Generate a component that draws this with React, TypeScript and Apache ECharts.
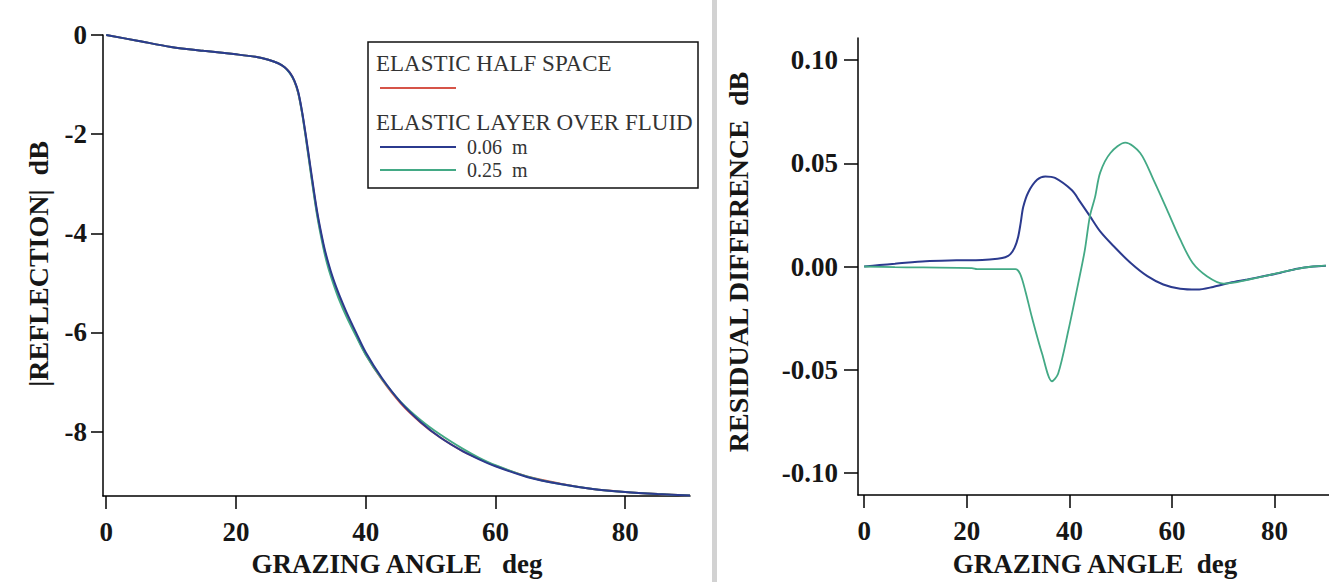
import React, { useEffect, useRef } from "react";
import * as echarts from "echarts";

const SERIF = '"Liberation Serif", "Times New Roman", Times, serif';
const BLUE = "#2b3a8e";
const GREEN = "#43a985";
const RED = "#d65448";
const INK = "#161616";

// Left panel: |REFLECTION| dB vs grazing angle
const leftAngles = [0, 5, 10, 15, 20, 23, 25, 26.5, 27.5, 28.3, 29, 29.6, 30.2, 30.8, 31.5, 32.5, 33.5, 34.2, 35, 36, 37, 38.5, 40, 42.5, 45.4, 48.5, 51.5, 55, 57.5, 60, 65, 70, 75, 80, 85, 90];
const halfSpaceDb = [0, -0.12, -0.24, -0.32, -0.39, -0.44, -0.5, -0.57, -0.65, -0.76, -0.93, -1.17, -1.57, -2.08, -2.72, -3.59, -4.26, -4.62, -4.96, -5.31, -5.62, -6.04, -6.44, -6.95, -7.43, -7.82, -8.12, -8.4, -8.55, -8.69, -8.91, -9.05, -9.16, -9.22, -9.26, -9.29];
const layer006Db = [0, -0.12, -0.24, -0.32, -0.39, -0.44, -0.5, -0.57, -0.65, -0.76, -0.92, -1.15, -1.55, -2.05, -2.68, -3.55, -4.22, -4.58, -4.92, -5.27, -5.58, -6.0, -6.4, -6.92, -7.41, -7.81, -8.12, -8.4, -8.56, -8.7, -8.92, -9.06, -9.16, -9.22, -9.26, -9.29];
const layer025Db = [0, -0.12, -0.24, -0.32, -0.39, -0.44, -0.5, -0.57, -0.65, -0.77, -0.93, -1.17, -1.58, -2.1, -2.75, -3.63, -4.31, -4.68, -5.01, -5.37, -5.67, -6.07, -6.45, -6.94, -7.4, -7.77, -8.06, -8.35, -8.53, -8.68, -8.91, -9.06, -9.16, -9.22, -9.26, -9.29];

// Right panel: residual difference dB vs grazing angle
const residAngles006 = [0, 3, 6, 12, 18, 23, 26, 27.5, 28.5, 29.3, 30, 30.5, 31, 32, 33.7, 35.3, 37.2, 40.5, 42, 44, 46, 48.6, 51.9, 55.2, 58.3, 61.6, 64.9, 68, 71.3, 74.7, 77.8, 81, 84.4, 87.5, 90];
const resid006 = [0, 0.0007, 0.0013, 0.0026, 0.003, 0.0032, 0.0038, 0.0045, 0.006, 0.009, 0.0142, 0.021, 0.0288, 0.036, 0.042, 0.0436, 0.0429, 0.0369, 0.0317, 0.0244, 0.017, 0.0099, 0.0018, -0.0047, -0.0087, -0.0108, -0.0112, -0.0099, -0.0079, -0.0063, -0.0047, -0.0031, -0.0011, 0, 0.0004];
const residAngles025 = [0, 6, 21, 22, 29.5, 30.4, 31.4, 32.7, 34.7, 36.6, 37.8, 39.8, 41.7, 43, 44, 45, 46, 48, 50.9, 53.8, 56.4, 59, 61.6, 64, 66.8, 70, 72, 75, 78, 81, 84.4, 87.5, 90];
const resid025 = [0, -0.0003, -0.0008, -0.0013, -0.0013, -0.0036, -0.0117, -0.0246, -0.0424, -0.0556, -0.052, -0.031, -0.0084, 0.0078, 0.0244, 0.0336, 0.0455, 0.055, 0.06, 0.055, 0.042, 0.0277, 0.0131, 0.0018, -0.0047, -0.0083, -0.0078, -0.0063, -0.0047, -0.003, -0.0011, 0, 0.0004];

const xTicks = [0, 20, 40, 60, 80];
const leftYTicks = [-8, -6, -4, -2, 0];
const rightYTicks = [-0.1, -0.05, 0, 0.05, 0.1];

const legendHeader1 = "ELASTIC HALF SPACE";
const legendHeader2 = "ELASTIC LAYER OVER FLUID";
const legendLabel006 = "0.06  m";
const legendLabel025 = "0.25  m";

const pairs = (xs: number[], ys: number[]) => xs.map((x, i) => [x, ys[i]]);

const axisCommon = {
  axisLine: { show: true, onZero: false, lineStyle: { color: "#000", width: 1.5 } },
  splitLine: { show: false },
};

const tickLabel = {
  fontFamily: SERIF,
  fontWeight: "bold" as const,
  fontSize: 27,
  color: INK,
};

const lineSeries = (name: string, xi: number, data: number[][], color: string, width = 2) => ({
  name,
  type: "line",
  xAxisIndex: xi,
  yAxisIndex: xi,
  data,
  showSymbol: false,
  smooth: 0.3,
  lineStyle: { color, width },
  itemStyle: { color },
});

export default function App() {
  const ref = useRef<HTMLDivElement>(null);

  useEffect(() => {
    document.body.style.margin = "0";
    if (!ref.current) return;
    const chart = echarts.init(ref.current, undefined, { renderer: "svg" });

    const legendText = (text: string, x: number, y: number, size: number) => ({
      type: "text",
      x,
      y,
      z: 11,
      style: { text, font: `${size}px ${SERIF}`, fill: "#333", textAlign: "left", textVerticalAlign: "middle" },
    });

    const option: any = {
      animation: false,
      backgroundColor: "#fff",
      grid: [
        { left: 103, top: 35, width: 587, height: 461 },
        { left: 858, top: 38, width: 471, height: 457 },
      ],
      xAxis: [
        {
          type: "value",
          gridIndex: 0,
          min: -0.5,
          max: 90,
          ...axisCommon,
          axisTick: { show: true, length: 13, customValues: xTicks, lineStyle: { color: "#000", width: 1.5 } },
          axisLabel: { ...tickLabel, customValues: xTicks, margin: 22 },
        },
        {
          type: "value",
          gridIndex: 1,
          min: -1.2,
          max: 90.6,
          ...axisCommon,
          axisTick: { show: true, length: 13, customValues: xTicks, lineStyle: { color: "#000", width: 1.5 } },
          axisLabel: { ...tickLabel, customValues: xTicks, margin: 22 },
        },
      ],
      yAxis: [
        {
          type: "value",
          gridIndex: 0,
          min: -9.3,
          max: 0,
          ...axisCommon,
          axisTick: { show: true, length: 12, customValues: leftYTicks, lineStyle: { color: "#000", width: 1.5 } },
          axisLabel: { ...tickLabel, customValues: leftYTicks, margin: 16 },
        },
        {
          type: "value",
          gridIndex: 1,
          min: -0.1107,
          max: 0.1107,
          ...axisCommon,
          axisTick: { show: true, length: 14, customValues: rightYTicks, lineStyle: { color: "#000", width: 1.5 } },
          axisLabel: {
            ...tickLabel,
            customValues: rightYTicks,
            margin: 20,
            formatter: (v: number) => v.toFixed(2),
          },
        },
      ],
      series: [
        lineSeries("ELASTIC HALF SPACE", 0, pairs(leftAngles, halfSpaceDb), RED),
        lineSeries("0.25 m", 0, pairs(leftAngles, layer025Db), GREEN),
        lineSeries("0.06 m", 0, pairs(leftAngles, layer006Db), BLUE),
        lineSeries("0.06 m residual", 1, pairs(residAngles006, resid006), BLUE),
        lineSeries("0.25 m residual", 1, pairs(residAngles025, resid025), GREEN, 1.8),
      ],
      graphic: [
        // divider between panels
        { type: "rect", shape: { x: 712, y: 0, width: 5, height: 582 }, style: { fill: "#d2d2d2" }, silent: true },
        // axis titles
        {
          type: "text",
          x: 38,
          y: 264,
          rotation: Math.PI / 2,
          style: { text: "|REFLECTION|  dB", font: `bold 28px ${SERIF}`, fill: INK, textAlign: "center", textVerticalAlign: "middle" },
        },
        {
          type: "text",
          x: 738,
          y: 262,
          rotation: Math.PI / 2,
          style: { text: "RESIDUAL DIFFERENCE  dB", font: `bold 28px ${SERIF}`, fill: INK, textAlign: "center", textVerticalAlign: "middle" },
        },
        {
          type: "text",
          x: 397,
          y: 564,
          style: { text: "GRAZING ANGLE   deg", font: `bold 27px ${SERIF}`, fill: INK, textAlign: "center", textVerticalAlign: "middle" },
        },
        {
          type: "text",
          x: 1095,
          y: 564,
          style: { text: "GRAZING ANGLE  deg", font: `bold 27px ${SERIF}`, fill: INK, textAlign: "center", textVerticalAlign: "middle" },
        },
        // legend box
        {
          type: "rect",
          shape: { x: 368, y: 42, width: 330, height: 146 },
          style: { fill: "#fff", stroke: "#111", lineWidth: 1.5 },
          z: 10,
        },
        legendText(legendHeader1, 376, 63, 23),
        { type: "line", z: 11, shape: { x1: 380, y1: 88, x2: 456, y2: 88 }, style: { stroke: RED, lineWidth: 2 } },
        legendText(legendHeader2, 376, 122, 23),
        { type: "line", z: 11, shape: { x1: 380, y1: 147, x2: 456, y2: 147 }, style: { stroke: BLUE, lineWidth: 2 } },
        legendText(legendLabel006, 467, 147, 20),
        { type: "line", z: 11, shape: { x1: 380, y1: 170, x2: 456, y2: 170 }, style: { stroke: GREEN, lineWidth: 2 } },
        legendText(legendLabel025, 467, 170, 20),
      ],
    };

    chart.setOption(option);
    return () => chart.dispose();
  }, []);

  return <div ref={ref} style={{ width: 1329, height: 582 }} />;
}
